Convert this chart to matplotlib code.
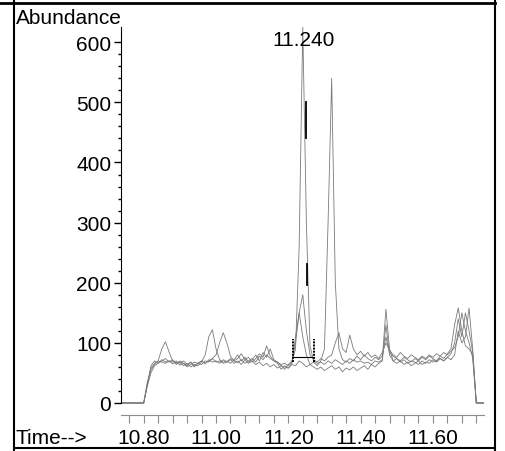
import matplotlib.pyplot as plt
import matplotlib.lines as mlines
import numpy as np

plt.rcParams['font.family'] = ['Liberation Sans', 'DejaVu Sans']

# scan times (min), one scan every 0.01 min
times = np.round(np.arange(10.74, 11.745, 0.01), 2)

# four overlaid ion traces (abundance)
trace_a = [0, 0, 0, 0, 0, 0, 0,
           30, 62, 70, 66, 72, 68, 70, 65, 68, 63,
           66, 60, 64, 68, 66, 70, 65, 72, 68, 70,
           66, 72, 68, 74, 70, 67, 72, 66, 70, 74,
           68, 78, 72, 80, 74, 70, 68, 64, 66, 62,
           68, 90, 260, 625, 300, 95, 70, 66, 68, 64,
           70, 66, 72, 68, 64, 70, 66, 72, 68, 70,
           66, 68, 64, 70, 68, 72, 156, 90, 70, 74,
           68, 72, 66, 70, 68, 64, 70, 66, 72, 68,
           70, 74, 70, 76, 72, 80, 120, 100, 110, 158,
           90, 0, 0, 0]
trace_b = [0, 0, 0, 0, 0, 0, 0,
           35, 55, 64, 70, 90, 102, 85, 70, 66, 68,
           62, 66, 60, 64, 62, 68, 80, 110, 122, 90,
           72, 68, 70, 66, 72, 80, 70, 76, 68, 72,
           80, 70, 84, 76, 90, 72, 68, 62, 60, 58,
           64, 62, 70, 66, 60, 64, 68, 62, 70, 90,
           300, 540, 200, 90, 72, 68, 74, 70, 78, 72,
           80, 74, 70, 76, 72, 78, 110, 84, 78, 74,
           70, 76, 72, 68, 74, 70, 76, 72, 78, 74,
           70, 78, 74, 82, 90, 130, 158, 120, 95, 90,
           80, 0, 0, 0]
trace_c = [0, 0, 0, 0, 0, 0, 0,
           28, 50, 62, 66, 70, 74, 68, 72, 64, 70,
           66, 62, 68, 60, 66, 64, 70, 68, 74, 80,
           100, 117, 100, 78, 70, 74, 82, 72, 66, 70,
           64, 68, 62, 66, 60, 64, 58, 62, 56, 64,
           70, 100, 150, 180, 120, 80, 72, 68, 74, 70,
           76, 80, 100, 117, 90, 84, 113, 90, 80, 86,
           78, 84, 76, 80, 74, 84, 100, 88, 80, 76,
           84, 78, 74, 80, 76, 72, 78, 74, 80, 76,
           82, 78, 84, 80, 86, 92, 110, 150, 120, 100,
           75, 0, 0, 0]
trace_d = [0, 0, 0, 0, 0, 0, 0,
           32, 58, 66, 70, 68, 66, 70, 68, 70, 66,
           70, 64, 68, 62, 66, 70, 66, 70, 74, 68,
           70, 66, 68, 72, 66, 70, 64, 72, 76, 68,
           74, 82, 76, 95, 78, 70, 66, 56, 62, 58,
           66, 110, 150, 110, 80, 64, 60, 56, 60, 54,
           58, 62, 56, 60, 52, 58, 55, 60, 54, 58,
           62, 56, 64, 60, 66, 70, 130, 80, 70, 66,
           70, 64, 68, 62, 66, 70, 64, 68, 66, 72,
           68, 74, 70, 76, 82, 100, 140, 110, 150, 120,
           85, 0, 0, 0]

# integration marks for the labelled peak
int_start, int_end = 11.212, 11.27
int_base = 76
int_tick_lo, int_tick_hi = 69, 107
peak_rt = 11.240
peak_label = "11.240"
peak_marks = [(11.249, 440, 500), (11.251, 196, 232)]

fig = plt.figure(figsize=(5.06, 4.52), dpi=100)
ax = fig.add_axes([0.239, 0.0796, 0.718, 0.858])

for tr in (trace_a, trace_b, trace_c, trace_d):
    ax.plot(times, tr, color="0.48", lw=0.6)

# integration markers
ax.plot([int_start, int_end], [int_base, int_base], color="black", lw=0.8)
for xv in (int_start, int_end):
    ax.plot([xv, xv], [int_tick_lo, int_tick_hi], color="black", lw=1.4,
            linestyle=(0, (1, 0.6)))
for xv, lo, hi in peak_marks:
    ax.plot([xv, xv], [lo, hi], color="black", lw=1.3)

ax.text(peak_rt + 0.002, 605, peak_label, ha="center", va="center", fontsize=15)

ax.set_xlim(10.737, 11.742)
ax.set_ylim(-20, 625)

ax.spines["top"].set_visible(False)
ax.spines["right"].set_visible(False)
ax.spines["left"].set_bounds(0, 625)
ax.spines["bottom"].set_color("0.55")
ax.spines["bottom"].set_linewidth(0.8)

ax.set_yticks([0, 100, 200, 300, 400, 500, 600])
ax.set_yticks(np.arange(20, 620, 20), minor=True)
ax.tick_params(axis="y", direction="out", length=5, width=1, labelsize=15, pad=2)
ax.tick_params(axis="y", which="minor", length=2.5, width=1)

ax.set_xticks(np.round(np.arange(10.76, 11.74, 0.04), 2), minor=True)
ax.set_xticks([10.80, 11.00, 11.20, 11.40, 11.60])
ax.set_xticklabels(["10.80", "11.00", "11.20", "11.40", "11.60"])
ax.tick_params(axis="x", which="both", direction="out", length=6, width=0.8,
               color="0.55", labelsize=15, pad=3)

fig.text(16 / 506, 1 - 18 / 452, "Abundance", ha="left", va="center", fontsize=15)
fig.text(16 / 506, 1 - 439 / 452, "Time-->", ha="left", va="center", fontsize=15)

# outer frame
W, H = 506.0, 452.0
frame = [
    ([0, 495 / W], [1 - 4 / H, 1 - 4 / H], 2.0),
    ([14 / W, 14 / W], [0, 1], 1.5),
    ([495 / W, 495 / W], [0, 1], 1.5),
    ([14 / W, 495 / W], [1 - 449 / H, 1 - 449 / H], 1.5),
]
for xs, ys, lw in frame:
    fig.add_artist(mlines.Line2D(xs, ys, color="black", lw=lw,
                                 transform=fig.transFigure))

fig.savefig("out.png", dpi=100)
